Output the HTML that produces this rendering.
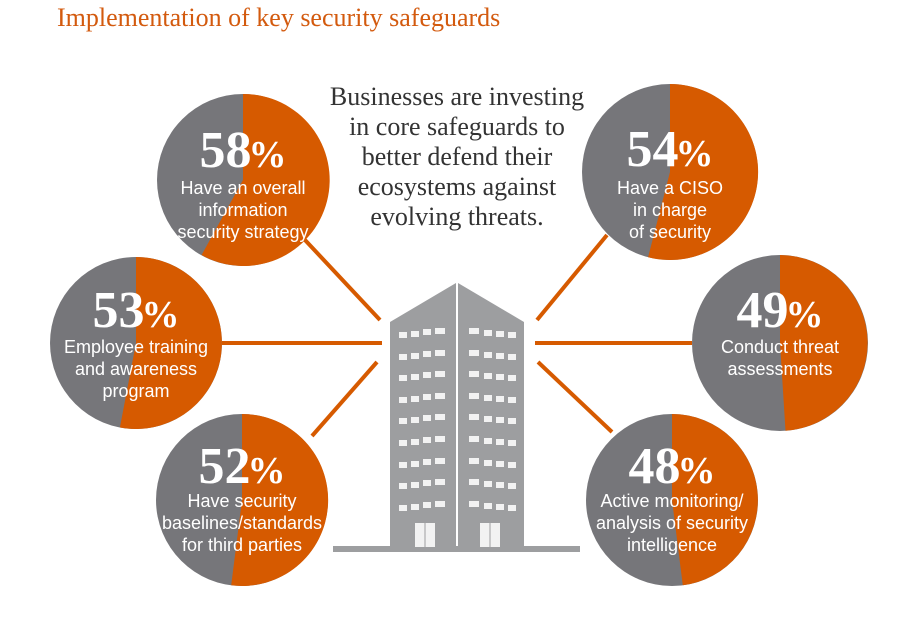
<!DOCTYPE html><html><head><style>body{margin:0;background:#fff}svg{display:block}</style></head><body>
<svg width="906" height="640" viewBox="0 0 906 640" xmlns="http://www.w3.org/2000/svg">
<defs><g id="row" fill="#f2f2f2">
<rect x="399" y="0" width="8" height="6"/><rect x="411" y="-1" width="8" height="6"/><rect x="423" y="-3" width="8" height="6"/><rect x="435" y="-4" width="10" height="6"/>
<rect x="469" y="-4" width="10" height="6"/><rect x="484" y="-2" width="8" height="6"/><rect x="496" y="-1" width="8" height="6"/><rect x="508" y="0" width="8" height="6"/>
</g></defs>
<text x="57" y="26" font-family="Liberation Serif,serif" font-size="26" fill="#d35a0e">Implementation of key security safeguards</text>
<g font-family="Liberation Serif,serif" font-size="26" fill="#333" text-anchor="middle">
<text x="457" y="105">Businesses are investing</text>
<text x="457" y="135">in core safeguards to</text>
<text x="457" y="165">better defend their</text>
<text x="457" y="195">ecosystems against</text>
<text x="457" y="225">evolving threats.</text></g>
<g stroke="#d65a00" stroke-width="4">
<line x1="305" y1="240" x2="380" y2="320"/><line x1="222" y1="343" x2="382" y2="343"/><line x1="312" y1="436" x2="377" y2="362"/>
<line x1="607" y1="235" x2="537" y2="320"/><line x1="535" y1="343" x2="692" y2="343"/><line x1="538" y1="362" x2="612" y2="432"/></g>
<g>
<circle cx="243" cy="180" r="86" fill="#76767a"/><path d="M243 180 L243 94 A86 86 0 1 1 201.6 255 Z" fill="#d65a00"/>
<circle cx="136" cy="343" r="86" fill="#76767a"/><path d="M136 343 L136 257 A86 86 0 1 1 119.9 427.5 Z" fill="#d65a00"/>
<circle cx="242" cy="500" r="86" fill="#76767a"/><path d="M242 500 L242 414 A86 86 0 1 1 231.2 585.3 Z" fill="#d65a00"/>
<circle cx="670" cy="172" r="88" fill="#76767a"/><path d="M670 172 L670 84 A88 88 0 1 1 648.1 257.2 Z" fill="#d65a00"/>
<circle cx="780" cy="343" r="88" fill="#76767a"/><path d="M780 343 L780 255 A88 88 0 0 1 785.5 430.8 Z" fill="#d65a00"/>
<circle cx="672" cy="500" r="86" fill="#76767a"/><path d="M672 500 L672 414 A86 86 0 0 1 682.8 585.3 Z" fill="#d65a00"/>
</g>
<g fill="#fff" text-anchor="middle">
<g font-family="Liberation Serif,serif" font-weight="bold" font-size="52">
<text x="243" y="167">58<tspan font-size="38" dx="-3">%</tspan></text>
<text x="136" y="327">53<tspan font-size="38" dx="-3">%</tspan></text>
<text x="242" y="483">52<tspan font-size="38" dx="-3">%</tspan></text>
<text x="670" y="166">54<tspan font-size="38" dx="-3">%</tspan></text>
<text x="780" y="327">49<tspan font-size="38" dx="-3">%</tspan></text>
<text x="672" y="483">48<tspan font-size="38" dx="-3">%</tspan></text></g>
<g font-family="Liberation Sans,sans-serif" font-size="18">
<text x="243" y="194">Have an overall</text><text x="243" y="216">information</text><text x="243" y="238">security strategy</text>
<text x="136" y="353">Employee training</text><text x="136" y="375">and awareness</text><text x="136" y="397">program</text>
<text x="242" y="507">Have security</text><text x="242" y="529">baselines/standards</text><text x="242" y="551">for third parties</text>
<text x="670" y="194">Have a CISO</text><text x="670" y="216">in charge</text><text x="670" y="238">of security</text>
<text x="780" y="353">Conduct threat</text><text x="780" y="375">assessments</text>
<text x="672" y="507">Active monitoring/</text><text x="672" y="529">analysis of security</text><text x="672" y="551">intelligence</text></g></g>
<g fill="#9d9ea0">
<polygon points="390,322 456,283 456,547 390,547"/>
<polygon points="458,283 524,322 524,547 458,547"/>
<rect x="333" y="546" width="247" height="6"/></g>
<use href="#row" y="332"/><use href="#row" y="354"/><use href="#row" y="375"/><use href="#row" y="397"/><use href="#row" y="418"/><use href="#row" y="440"/><use href="#row" y="462"/><use href="#row" y="483"/><use href="#row" y="505"/>
<g fill="#f2f2f2"><rect x="415" y="523" width="20" height="24"/><rect x="480" y="523" width="20" height="24"/></g>
<line x1="425" y1="523" x2="425" y2="547" stroke="#9d9ea0"/><line x1="490" y1="523" x2="490" y2="547" stroke="#9d9ea0"/>
</svg></body></html>
